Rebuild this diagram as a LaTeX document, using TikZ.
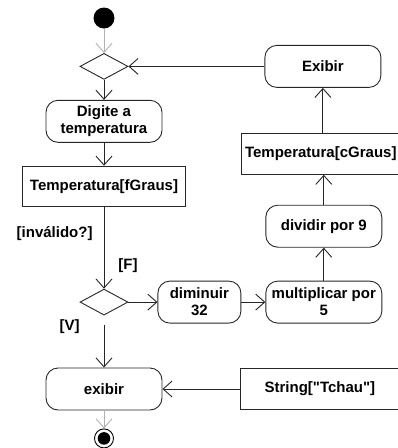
\documentclass[tikz,border=0pt]{standalone}
\usepackage{fontspec}
\setmainfont[Ligatures=TeXOff]{Liberation Sans}
\usetikzlibrary{shapes.geometric, arrows.meta, positioning}

\begin{document}
\begin{tikzpicture}[
		font=\fontsize{15}{17}\selectfont\bfseries,
		line width=0.9pt,
		action/.style = {rectangle, draw=black!85, rounded corners=12pt, minimum width=116pt, minimum height=42pt, align=center, inner sep=1pt},
		object/.style = {rectangle, draw=black!85, minimum width=158pt, minimum height=41pt, inner sep=1pt},
		decision/.style = {diamond, draw=black!85, minimum width=48pt, minimum height=26pt, inner sep=0pt},
		initial/.style = {circle, fill, minimum size=21pt, inner sep=0pt},
		final/.style = {circle, draw, minimum size=19pt, inner sep=0pt, path picture={\fill (path picture bounding box.center) circle (6.3pt);}},
		flow/.style = {draw=black!85, -{Straight Barb[length=9pt, width=16pt]}},
		startflow/.style = {flow, draw=gray!60},
		guard/.style = {inner sep=0pt}
		]
		\useasboundingbox (0pt,0pt) rectangle (398pt,-448pt);
		
		% Nodes
		\node[initial] (start) at (104pt,-18pt) {};
		\node[decision, below=24pt of start] (dec1) {};
		\node[action, below=20pt of dec1] (digite) {Digite a\\temperatura};
		\node[object, minimum width=163pt, minimum height=40pt, below=23pt of digite] (fgraus) {Temperatura[fGraus]};
		\node[decision, below=82pt of fgraus] (dec2) {};
		\node[action, below=52pt of dec2] (exibir) {exibir};
		\node[final, below=18pt of exibir] (end) {};
		\node[action, minimum width=83pt, right=29pt of dec2] (diminuir) {diminuir\\32};
		\node[action, right=24pt of diminuir] (mult) {multiplicar por\\5};
		\node[action, above=33pt of mult] (dividir) {dividir por 9};
		\node[object, above=30pt of dividir, xshift=-3pt] (cgraus) {Temperatura[cGraus]};
		\node[action, right=136pt of dec1] (Exibir) {Exibir};
		\node[object, right=78pt of exibir] (tchau) {String["Tchau"]};
		
		% Flows
		\draw[startflow] (start) -- (dec1);
		\draw[flow] (dec1) -- (digite);
		\draw[flow] (digite) -- (fgraus);
		\draw[flow] (fgraus) -- node[guard, pos=0.33, left=11pt] {[inválido?]} node[guard, pos=0.72, right=14pt] {[F]} (dec2);
		\draw[flow, shorten <=9pt] (dec2) -- node[guard, pos=0.21, left=24pt] {[V]} (exibir);
		\draw[startflow] (exibir) -- (end);
		\draw[flow] (dec2) -- (diminuir);
		\draw[flow] (diminuir) -- (mult);
		\draw[flow] (mult) -- (dividir);
		\draw[flow] (dividir) -- (dividir |- cgraus.south);
		\draw[flow] (cgraus.north -| Exibir) -- (Exibir);
		\draw[flow] (Exibir) -- (dec1);
		\draw[flow] (tchau) -- (exibir);
		
	\end{tikzpicture}
\end{document}
